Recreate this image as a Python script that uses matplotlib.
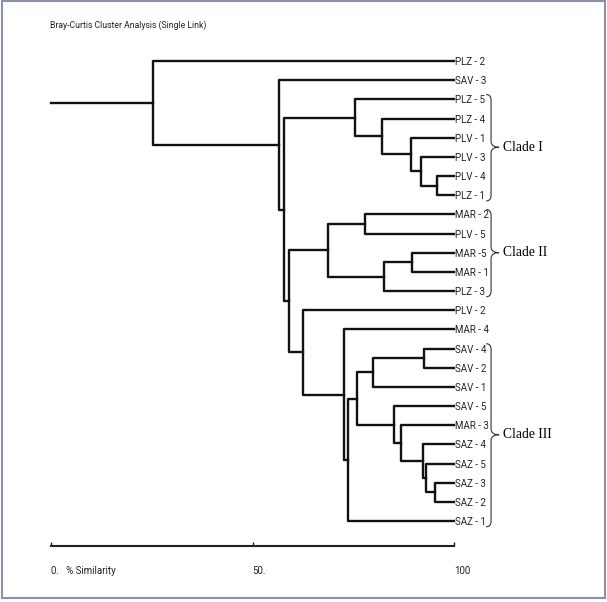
import matplotlib
matplotlib.use("Agg")
import matplotlib.pyplot as plt
from matplotlib.path import Path
from matplotlib.patches import PathPatch, Rectangle

# leaf order, top to bottom
leaves = ["PLZ - 2", "SAV - 3", "PLZ - 5", "PLZ - 4", "PLV - 1", "PLV - 3", "PLV - 4",
          "PLZ - 1", "MAR - 2", "PLV - 5", "MAR -5", "MAR - 1", "PLZ - 3", "PLV - 2",
          "MAR - 4", "SAV - 4", "SAV - 2", "SAV - 1", "SAV - 5", "MAR - 3", "SAZ - 4",
          "SAZ - 5", "SAZ - 3", "SAZ - 2", "SAZ - 1"]

# merges n0..n23: two children and the % similarity where they join
merge_left = ["PLV - 4", "PLV - 3", "PLV - 1", "PLZ - 4", "PLZ - 5", "MAR - 2", "MAR -5", "n6",
              "n5", "SAV - 4", "n9", "SAZ - 3", "SAZ - 5", "SAZ - 4", "MAR - 3", "SAV - 5",
              "n10", "n16", "MAR - 4", "PLV - 2", "n8", "n4", "SAV - 3", "PLZ - 2"]
merge_right = ["PLZ - 1", "n0", "n1", "n2", "n3", "PLV - 5", "MAR - 1", "PLZ - 3",
               "n7", "SAV - 2", "SAV - 1", "SAZ - 2", "n11", "n12", "n13", "n14",
               "n15", "SAZ - 1", "n17", "n18", "n19", "n20", "n21", "n22"]
merge_sim = [95.7, 91.7, 89.3, 82.1, 75.5, 77.9, 89.5, 82.6,
             68.8, 92.6, 79.8, 95.3, 93.1, 92.2, 86.8, 85.1,
             75.9, 73.6, 72.6, 62.6, 59.1, 57.8, 56.6, 25.3]

# clade brackets: label, first leaf, last leaf
clade_names = ["Clade I", "Clade II", "Clade III"]
clade_first = ["PLZ - 5", "MAR - 2", "SAV - 4"]
clade_last = ["PLZ - 1", "PLZ - 3", "SAZ - 1"]

narrow = ["Roboto", "Liberation Sans", "DejaVu Sans"]
serif = ["Liberation Serif", "DejaVu Serif"]

W, H = 607, 602
fig = plt.figure(figsize=(W / 100, H / 100), dpi=100)
fig.patch.set_facecolor("white")

# axes from x=51..454 px, y=50..545.5 px
ax = fig.add_axes([51 / W, (H - 545.5) / H, 403 / W, 495.5 / H])
ax.set_xlim(0, 100)
ax.set_ylim(25.278, -0.574)

pos = {name: (100.0, i) for i, name in enumerate(leaves)}
line_kw = dict(color="#111111", lw=1.7, solid_capstyle="projecting", clip_on=False)
for k, (a, b, s) in enumerate(zip(merge_left, merge_right, merge_sim)):
    xa, ya = pos[a]
    xb, yb = pos[b]
    ax.plot([xa, s, s, xb], [ya, ya, yb, yb], **line_kw)
    pos["n%d" % k] = (s, (ya + yb) / 2)

root_x, root_y = pos["n%d" % (len(merge_sim) - 1)]
ax.plot([0, root_x], [root_y, root_y], **line_kw)

# leaf labels on the right
ax.yaxis.tick_right()
ax.set_yticks(range(len(leaves)))
ax.set_yticklabels(leaves, family=narrow, fontsize=7, color="#222222")
ax.tick_params(axis="y", length=0, pad=1)

# bottom scale
for side in ["left", "right", "top"]:
    ax.spines[side].set_visible(False)
ax.spines["bottom"].set_linewidth(1.5)
ax.spines["bottom"].set_color("#222222")
ax.set_xticks([0, 50, 100])
ax.set_xticklabels(["0.   % Similarity", "50.", "100"], family=narrow, fontsize=7,
                   color="#222222")
for lab in ax.get_xticklabels():
    lab.set_ha("left")
ax.tick_params(axis="x", direction="in", length=3, width=1, pad=15, color="#222222")

# clade braces
def brace(y0, y1, ym):
    x0, x1, x2 = 108.0, 109.2, 111.2
    r = 0.3
    verts = [(x0, y0), (x1, y0), (x1, y0 + r), (x1, ym - r), (x1, ym), (x2, ym),
             (x1, ym), (x1, ym + r), (x1, y1 - r), (x1, y1), (x0, y1)]
    codes = [Path.MOVETO, Path.CURVE3, Path.CURVE3, Path.LINETO, Path.CURVE3, Path.CURVE3,
             Path.CURVE3, Path.CURVE3, Path.LINETO, Path.CURVE3, Path.CURVE3]
    ax.add_patch(PathPatch(Path(verts, codes), fill=False, ec="#333333", lw=0.8, clip_on=False))

for name, f, l in zip(clade_names, clade_first, clade_last):
    i0, i1 = leaves.index(f), leaves.index(l)
    ym = (i0 + i1) / 2
    brace(i0 - 0.25, i1 + 0.3, ym)
    ax.text(112.2, ym, name, family=serif, fontsize=9.8, ha="left", va="center")

fig.text(50 / W, 1 - 25 / H, "Bray-Curtis Cluster Analysis (Single Link)",
         family=narrow, fontsize=6.2, ha="left", va="center", color="#222222")

fig.add_artist(Rectangle((2 / W, 4 / H), 603 / W, 597 / H, transform=fig.transFigure,
                         fill=False, ec="#8a90a6", lw=1.5))

fig.savefig("out.png", dpi=100)
